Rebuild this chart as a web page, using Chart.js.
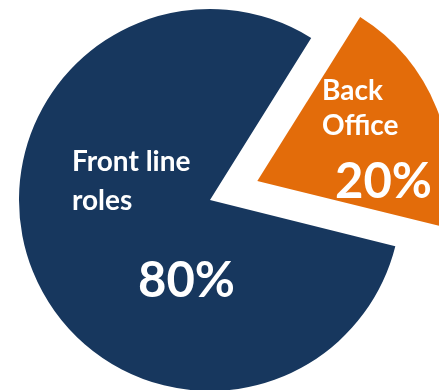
<!DOCTYPE html>
<html>
<head>
<meta charset="utf-8">
<script src="https://cdn.jsdelivr.net/npm/chart.js@4.4.1/dist/chart.umd.min.js"></script>
<style>
  html, body { margin: 0; padding: 0; background: #ffffff; overflow: hidden; }
  canvas { display: block; }
</style>
</head>
<body>
<canvas id="staff-chart" width="439" height="390"></canvas>
<script>
const categories = ["Back Office", "Front line roles"];
const shares = [20, 80];
const sliceLabels = [["Back", "Office"], ["Front line", "roles"]];
const sliceColors = ["#E36C0A", "#17375E"];

// label placement relative to the pie centre (left-aligned, alphabetic baseline)
const namePos = [[112, -100], [-138, -29]];
const valuePos = [[125, -2], [-72, 97]];
const nameLineGap = [35, 39];

const sliceText = {
  id: "sliceText",
  afterDatasetsDraw(chart) {
    const ctx = chart.ctx;
    const meta = chart.getDatasetMeta(0);
    ctx.save();
    ctx.fillStyle = "#FFFFFF";
    ctx.textAlign = "left";
    ctx.textBaseline = "alphabetic";
    meta.data.forEach((arc, i) => {
      const cx = arc.x;
      const cy = arc.y;
      ctx.font = "bold 28px Lato";
      sliceLabels[i].forEach((line, j) => {
        ctx.fillText(line, cx + namePos[i][0], cy + namePos[i][1] + j * nameLineGap[i]);
      });
      ctx.font = "bold 49px Lato";
      ctx.fillText(shares[i] + "%", cx + valuePos[i][0], cy + valuePos[i][1]);
    });
    ctx.restore();
  },
};

new Chart(document.getElementById("staff-chart"), {
  type: "pie",
  data: {
    labels: categories,
    datasets: [
      {
        data: shares,
        backgroundColor: sliceColors,
        borderWidth: 0,
        // arcs are pushed out by a quarter of this value
        offset: [204, 0],
        hoverOffset: 0,
      },
    ],
  },
  options: {
    responsive: false,
    animation: false,
    devicePixelRatio: 1,
    rotation: 32,
    radius: 191,
    layout: {
      padding: { top: 10, right: 19, bottom: 0, left: 0 },
    },
    plugins: {
      legend: { display: false },
      tooltip: { enabled: false },
    },
  },
  plugins: [sliceText],
});
</script>
</body>
</html>
